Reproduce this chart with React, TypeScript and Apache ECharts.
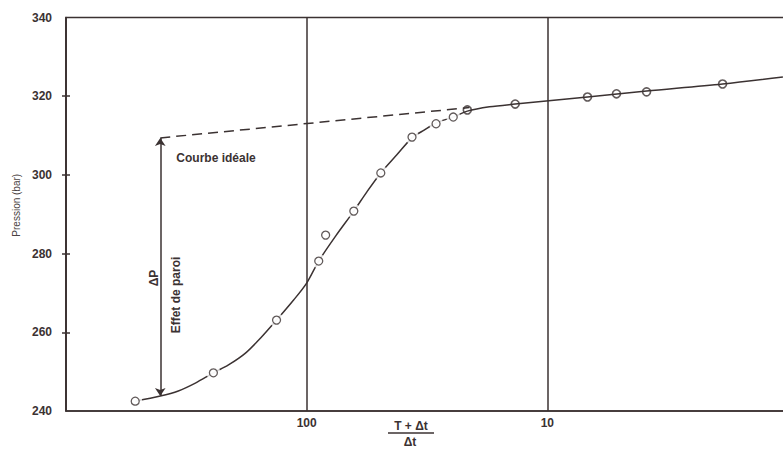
import React, { useEffect, useRef } from "react";
import * as echarts from "echarts";

// (T+Δt)/Δt , pression (bar) — courbe tracée
const curvePoints: [number, number][] = [
  [515.7, 242.5],
  [405.8, 243.8],
  [341.5, 245.1],
  [290.1, 247.1],
  [244.1, 249.7],
  [211.3, 251.7],
  [179.6, 254.7],
  [154.0, 258.8],
  [133.4, 263.1],
  [113.3, 268.2],
  [100, 272.5],
  [89.1, 278.1],
  [75.7, 284.5],
  [63.7, 290.8],
  [56.2, 295.7],
  [49.2, 300.5],
  [42.2, 305.1],
  [36.5, 309.4],
  [32.5, 311.4],
  [29.0, 313.2],
  [24.6, 314.7],
  [21.5, 316.2],
  [17.4, 317.3],
  [13.6, 318.0],
  [6.81, 319.8],
  [3.87, 321.3],
  [1.87, 323.1],
  [1.05, 324.9],
];

// mesures
const pointsEarly: [number, number][] = [
  [515.7, 242.5],
  [244.1, 249.7],
  [133.4, 263.1],
  [89.1, 278.1],
  [83.4, 284.7],
  [63.7, 290.8],
  [49.2, 300.5],
  [36.5, 309.6],
  [29.0, 313.0],
  [24.6, 314.7],
];

const pointsLate: [number, number][] = [
  [21.5, 316.5],
  [13.6, 318.0],
  [6.81, 319.8],
  [5.16, 320.6],
  [3.87, 321.1],
  [1.87, 323.1],
];

const idealLine: [number, number][] = [
  [405.8, 309.4],
  [21.1, 317.1],
];

const deltaP: [number, number][] = [
  [405.8, 243.8],
  [405.8, 309.4],
];

const xTickLabels = [100, 10];
const yTickValues = [260, 280, 300, 320];

const INK = "#3b3232";
const FONT = "Liberation Sans";

export default function App() {
  const ref = useRef<HTMLDivElement>(null);
  useEffect(() => {
    if (!ref.current) return;
    const chart = echarts.init(ref.current, undefined, { renderer: "svg" });
    chart.setOption({
      animation: false,
      backgroundColor: "#ffffff",
      grid: {
        left: 66,
        top: 17.5,
        right: -5,
        bottom: 39,
        containLabel: false,
        outerBoundsMode: "none",
        show: true,
        borderColor: INK,
        borderWidth: 1.5,
      },
      xAxis: {
        type: "log",
        logBase: 10,
        min: 1,
        max: 1000,
        inverse: true,
        axisLine: { show: true, lineStyle: { color: INK, width: 1.5 } },
        axisTick: { show: false },
        axisLabel: {
          margin: 6,
          color: INK,
          fontFamily: FONT,
          fontWeight: "bold",
          fontSize: 12,
          formatter: (v: number) => {
            const r = Math.round(v);
            return xTickLabels.indexOf(r) >= 0 ? String(r) : "";
          },
        },
        splitLine: { show: true, lineStyle: { color: INK, width: 1.5 } },
      },
      yAxis: [
        {
          type: "value",
          min: 240,
          max: 340,
          interval: 20,
          name: "Pression (bar)",
          nameLocation: "middle",
          nameGap: 44,
          nameTextStyle: {
            color: "#4a4242",
            fontFamily: FONT,
            fontSize: 10,
            padding: [0, 0, 0, 18],
          },
          axisLine: { show: true, lineStyle: { color: INK, width: 1.5 } },
          axisTick: {
            show: true,
            length: 4,
            customValues: yTickValues,
            lineStyle: { color: INK, width: 1.5 },
          },
          axisLabel: {
            margin: 14,
            color: INK,
            fontFamily: FONT,
            fontWeight: "bold",
            fontSize: 12,
          },
          splitLine: { show: false },
        },
        {
          type: "value",
          min: 240,
          max: 340,
          interval: 20,
          position: "left",
          axisLine: { show: false },
          axisLabel: { show: false },
          axisTick: {
            show: true,
            inside: true,
            length: 4,
            customValues: yTickValues,
            lineStyle: { color: INK, width: 1.5 },
          },
          splitLine: { show: false },
        },
      ],
      series: [
        {
          name: "Courbe réelle",
          type: "line",
          data: curvePoints,
          smooth: 0.3,
          showSymbol: false,
          symbol: "none",
          lineStyle: { color: INK, width: 1.5 },
          z: 2,
          silent: true,
        },
        {
          name: "Courbe idéale",
          type: "line",
          data: idealLine,
          symbol: "none",
          lineStyle: { color: INK, width: 1.5, type: [10, 6] },
          z: 2,
          silent: true,
          markLine: {
            silent: true,
            symbol: ["arrow", "arrow"],
            symbolSize: 8,
            label: { show: false },
            lineStyle: { color: INK, width: 1.5, type: "solid" },
            data: [[{ coord: deltaP[0] }, { coord: deltaP[1] }]],
          },
        },
        {
          name: "halo",
          type: "scatter",
          data: pointsEarly,
          symbol: "circle",
          symbolSize: 14,
          itemStyle: { color: "#ffffff", borderWidth: 0 },
          z: 3,
          silent: true,
        },
        {
          name: "Mesures",
          type: "scatter",
          data: pointsEarly,
          symbol: "circle",
          symbolSize: 8,
          itemStyle: { color: "#ffffff", borderColor: INK, borderWidth: 1.3 },
          z: 4,
          silent: true,
        },
        {
          name: "Mesures fin",
          type: "scatter",
          data: pointsLate,
          symbol: "circle",
          symbolSize: 8,
          itemStyle: { color: "rgba(255,255,255,0)", borderColor: INK, borderWidth: 1.6 },
          z: 4,
          silent: true,
        },
      ],
      graphic: [
        {
          type: "text",
          x: 216,
          y: 158,
          style: {
            text: "Courbe idéale",
            fill: INK,
            font: `bold 12px "${FONT}"`,
            align: "center",
            verticalAlign: "middle",
          },
        },
        {
          type: "text",
          x: 154,
          y: 278,
          rotation: Math.PI / 2,
          style: {
            text: "ΔP",
            fill: INK,
            font: `bold 12px "${FONT}"`,
            align: "center",
            verticalAlign: "middle",
          },
        },
        {
          type: "text",
          x: 176,
          y: 295,
          rotation: Math.PI / 2,
          style: {
            text: "Effet de paroi",
            fill: INK,
            font: `bold 12px "${FONT}"`,
            align: "center",
            verticalAlign: "middle",
          },
        },
        {
          type: "text",
          x: 411,
          y: 426,
          style: {
            text: "T + Δt",
            fill: INK,
            font: `bold 12px "${FONT}"`,
            align: "center",
            verticalAlign: "middle",
          },
        },
        {
          type: "line",
          shape: { x1: 388, y1: 433, x2: 434, y2: 433 },
          style: { stroke: INK, lineWidth: 1.3 },
        },
        {
          type: "text",
          x: 410,
          y: 442,
          style: {
            text: "Δt",
            fill: INK,
            font: `bold 12px "${FONT}"`,
            align: "center",
            verticalAlign: "middle",
          },
        },
      ],
    });
    return () => chart.dispose();
  }, []);
  return (
    <div
      ref={ref}
      style={{ position: "fixed", left: 0, top: 0, width: 783, height: 450 }}
    />
  );
}
